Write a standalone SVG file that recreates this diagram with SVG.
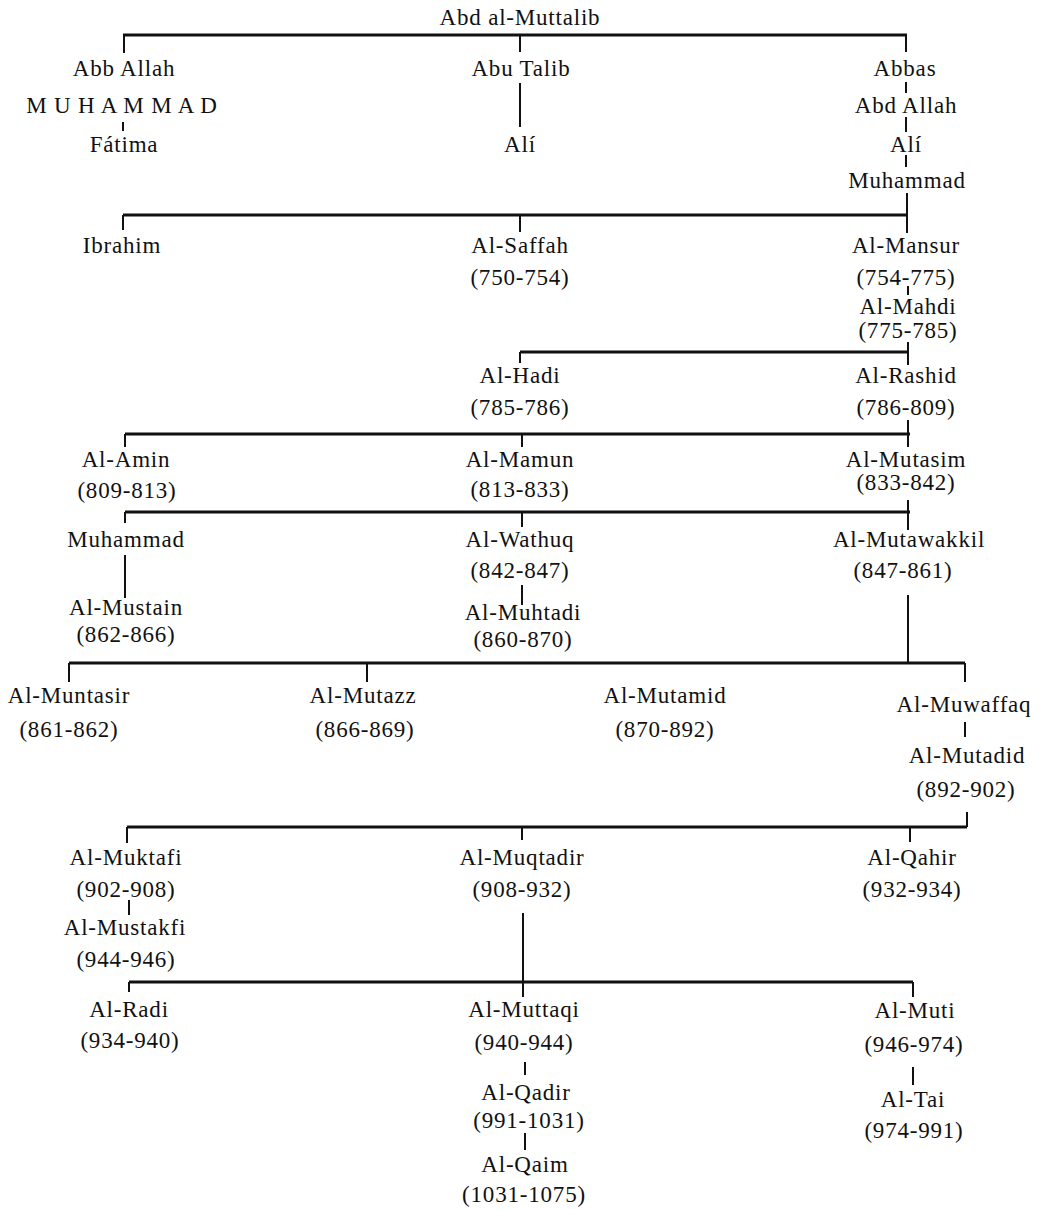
<svg xmlns="http://www.w3.org/2000/svg" width="1047" height="1210" viewBox="0 0 1047 1210">
<style>
text{font-family:"Liberation Serif","Times New Roman",serif;font-size:23px;letter-spacing:0.8px;fill:#111;text-anchor:middle}
.bar{stroke:#111;stroke-width:3;fill:none}
.v{stroke:#111;stroke-width:2;fill:none}
</style>
<rect width="1047" height="1210" fill="#fff"/>
<g id="connectors">
<path class="bar" d="M123,35H907"/>
<path class="v" d="M124,35V53M520,35V52M906,35V52"/>
<path class="v" d="M123,122V131M520,83V127"/>
<path class="v" d="M906,82V93M906,117V132M906,155V167"/>
<path class="v" d="M907,193V233"/>
<path class="bar" d="M123,215H907"/>
<path class="v" d="M123,215V230M520,215V232"/>
<path class="v" d="M908,286V295"/>
<path class="v" d="M908,342V365"/>
<path class="bar" d="M520,352H908"/>
<path class="v" d="M520,352V363"/>
<path class="v" d="M908,420V447"/>
<path class="bar" d="M125,434H910"/>
<path class="v" d="M125,434V447M522,434V447"/>
<path class="v" d="M908,500V530"/>
<path class="bar" d="M125,512H910"/>
<path class="v" d="M125,512V523M522,512V527"/>
<path class="v" d="M125,555V598M522,585V605"/>
<path class="v" d="M908,595V663"/>
<path class="bar" d="M69,663H965"/>
<path class="v" d="M69,663V682M367,663V682M965,663V682"/>
<path class="v" d="M965,722V737"/>
<path class="v" d="M967,812V827"/>
<path class="bar" d="M127,827H967"/>
<path class="v" d="M127,827V843M522,827V840M910,827V842"/>
<path class="v" d="M129,900V915"/>
<path class="v" d="M523,913V997"/>
<path class="bar" d="M129,982H913"/>
<path class="v" d="M129,982V992M913,982V997"/>
<path class="v" d="M525,1062V1075M525,1133V1150M913,1067V1085"/>
</g>
<g id="abd-al-muttalib"><text x="520" y="25">Abd al-Muttalib</text></g>
<g id="abb-allah"><text x="124" y="76">Abb Allah</text></g>
<g id="abu-talib"><text x="521" y="76">Abu Talib</text></g>
<g id="abbas"><text x="905" y="76">Abbas</text></g>
<g id="muhammad-prophet"><text x="122" y="113">M U H A M M A D</text></g>
<g id="fatima"><text x="124" y="152">Fátima</text></g>
<g id="ali-abu-talib"><text x="520" y="152">Alí</text></g>
<g id="abd-allah-abbas"><text x="906" y="113">Abd Allah</text></g>
<g id="ali-abbasid"><text x="906" y="152">Alí</text></g>
<g id="muhammad-abbasid"><text x="907" y="188">Muhammad</text></g>
<g id="ibrahim"><text x="122" y="253">Ibrahim</text></g>
<g id="al-saffah"><text x="520" y="253">Al-Saffah</text><text x="520" y="285">(750-754)</text></g>
<g id="al-mansur"><text x="906" y="253">Al-Mansur</text><text x="906" y="285">(754-775)</text></g>
<g id="al-mahdi"><text x="908" y="314">Al-Mahdi</text><text x="908" y="338">(775-785)</text></g>
<g id="al-hadi"><text x="520" y="383">Al-Hadi</text><text x="520" y="415">(785-786)</text></g>
<g id="al-rashid"><text x="906" y="383">Al-Rashid</text><text x="906" y="415">(786-809)</text></g>
<g id="al-amin"><text x="126" y="467">Al-Amin</text><text x="127" y="498">(809-813)</text></g>
<g id="al-mamun"><text x="520" y="467">Al-Mamun</text><text x="520" y="497">(813-833)</text></g>
<g id="al-mutasim"><text x="906" y="467">Al-Mutasim</text><text x="906" y="490">(833-842)</text></g>
<g id="muhammad-son-of-amin"><text x="126" y="547">Muhammad</text></g>
<g id="al-wathuq"><text x="520" y="547">Al-Wathuq</text><text x="520" y="578">(842-847)</text></g>
<g id="al-mutawakkil"><text x="909" y="547">Al-Mutawakkil</text><text x="903" y="578">(847-861)</text></g>
<g id="al-mustain"><text x="126" y="615">Al-Mustain</text><text x="126" y="642">(862-866)</text></g>
<g id="al-muhtadi"><text x="523" y="620">Al-Muhtadi</text><text x="523" y="647">(860-870)</text></g>
<g id="al-muntasir"><text x="69" y="703">Al-Muntasir</text><text x="69" y="737">(861-862)</text></g>
<g id="al-mutazz"><text x="363" y="703">Al-Mutazz</text><text x="365" y="737">(866-869)</text></g>
<g id="al-mutamid"><text x="665" y="703">Al-Mutamid</text><text x="665" y="737">(870-892)</text></g>
<g id="al-muwaffaq"><text x="964" y="712">Al-Muwaffaq</text></g>
<g id="al-mutadid"><text x="967" y="763">Al-Mutadid</text><text x="966" y="797">(892-902)</text></g>
<g id="al-muktafi"><text x="126" y="865">Al-Muktafi</text><text x="126" y="897">(902-908)</text></g>
<g id="al-muqtadir"><text x="522" y="865">Al-Muqtadir</text><text x="522" y="897">(908-932)</text></g>
<g id="al-qahir"><text x="912" y="865">Al-Qahir</text><text x="912" y="897">(932-934)</text></g>
<g id="al-mustakfi"><text x="125" y="935">Al-Mustakfi</text><text x="126" y="967">(944-946)</text></g>
<g id="al-radi"><text x="129" y="1017">Al-Radi</text><text x="130" y="1048">(934-940)</text></g>
<g id="al-muttaqi"><text x="524" y="1017">Al-Muttaqi</text><text x="524" y="1050">(940-944)</text></g>
<g id="al-muti"><text x="915" y="1018">Al-Muti</text><text x="914" y="1052">(946-974)</text></g>
<g id="al-qadir"><text x="526" y="1100">Al-Qadir</text><text x="529" y="1128">(991-1031)</text></g>
<g id="al-qaim"><text x="525" y="1172">Al-Qaim</text><text x="524" y="1202">(1031-1075)</text></g>
<g id="al-tai"><text x="913" y="1107">Al-Tai</text><text x="914" y="1138">(974-991)</text></g>
</svg>
